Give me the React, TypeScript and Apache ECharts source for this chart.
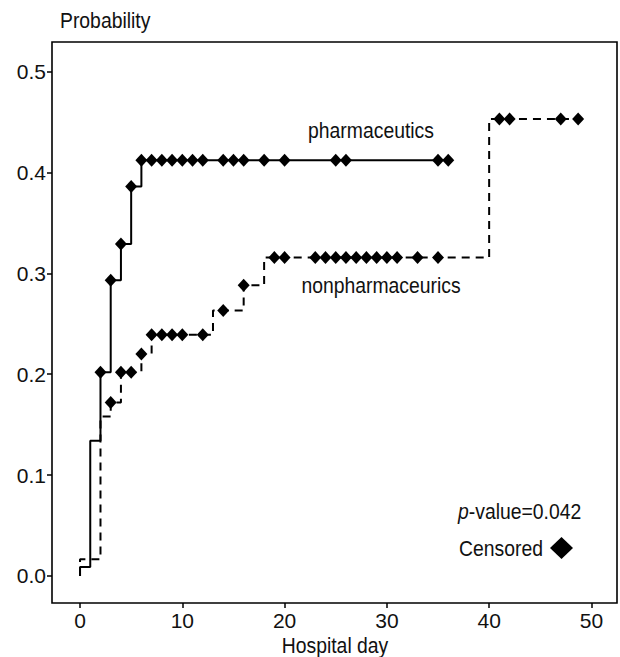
import React, { useEffect, useRef } from 'react';
import * as echarts from 'echarts';

// Step curves (time of jump, cumulative probability after jump)
const pharmTimes = [0, 0, 1, 2, 3, 4, 5, 6, 36];
const pharmProbs = [0, 0.009, 0.134, 0.202, 0.293, 0.329, 0.386, 0.412, 0.412];
const pharmCensored = [2, 3, 4, 5, 6, 7, 8, 9, 10, 11, 12, 14, 15, 16, 18, 20, 25, 26, 35, 36];

const nonTimes = [0, 0, 2, 3, 4, 6, 7, 13, 16, 18, 40, 48.7];
const nonProbs = [0, 0.0165, 0.158, 0.172, 0.202, 0.22, 0.239, 0.263, 0.288, 0.3155, 0.453, 0.453];
const nonCensored = [3, 4, 5, 6, 7, 8, 9, 10, 12, 14, 16, 19, 20, 23, 24, 25, 26, 27, 28, 29, 30, 31, 33, 35, 41, 42, 47, 48.7];

const xTicks = [0, 10, 20, 30, 40, 50];
const yTicks = [0, 0.1, 0.2, 0.3, 0.4, 0.5];

const FONT = "'Liberation Sans', Arial, Helvetica, sans-serif";
const SX = 0.88;

function stepAt(times: number[], probs: number[], t: number) {
  let v = probs[0];
  for (let i = 0; i < times.length; i++) if (times[i] <= t) v = probs[i];
  return v;
}

function label(text: string, x: number, y: number, align: string, extra: any = {}) {
  return {
    type: 'text', x, y, scaleX: SX,
    style: {
      text, fontSize: 22, fontFamily: FONT, fill: '#111', align, verticalAlign: 'middle', ...extra,
    },
  };
}

export default function App() {
  const ref = useRef<HTMLDivElement>(null);
  useEffect(() => {
    if (!ref.current) return;
    const chart = echarts.init(ref.current, undefined, { renderer: 'svg' });
    const pharmLine = pharmTimes.map((t, i) => [t, pharmProbs[i]]);
    const nonLine = nonTimes.map((t, i) => [t, nonProbs[i]]);
    const pharmC = pharmCensored.map((t) => [t, stepAt(pharmTimes, pharmProbs, t)]);
    const nonC = nonCensored.map((t) => [t, stepAt(nonTimes, nonProbs, t)]);
    chart.setOption({
      animation: false,
      backgroundColor: '#fff',
      grid: {
        left: 52, top: 42, right: 3, bottom: 54,
        show: true, borderColor: '#000', borderWidth: 1.6,
        containLabel: false, outerBoundsMode: 'none',
      },
      xAxis: {
        type: 'value', min: -2.74, max: 52.5,
        axisLine: { show: false, onZero: false },
        splitLine: { show: false },
        axisTick: { show: true, customValues: xTicks, length: 5, lineStyle: { color: '#000', width: 1.5 } },
        axisLabel: { customValues: xTicks, color: '#111', fontFamily: FONT, fontSize: 21, margin: 7 },
      },
      yAxis: {
        type: 'value', min: -0.0268, max: 0.5292,
        axisLine: { show: false, onZero: false },
        splitLine: { show: false },
        axisTick: { show: true, customValues: yTicks, length: 5, lineStyle: { color: '#000', width: 1.5 } },
        axisLabel: {
          customValues: yTicks, color: '#111', fontFamily: FONT, fontSize: 21, margin: 6,
          formatter: (v: number) => v.toFixed(1),
        },
      },
      series: [
        {
          type: 'line', data: pharmLine, step: 'end', symbol: 'none',
          lineStyle: { color: '#000', width: 2 },
        },
        {
          type: 'line', data: nonLine, step: 'end', symbol: 'none',
          lineStyle: { color: '#000', width: 2, type: [8, 6] },
        },
        {
          type: 'scatter', data: pharmC, symbol: 'diamond', symbolSize: [12, 13],
          itemStyle: { color: '#000', opacity: 1 },
        },
        {
          type: 'scatter', data: nonC, symbol: 'diamond', symbolSize: [12, 13],
          itemStyle: { color: '#000', opacity: 1 },
        },
      ],
      graphic: [
        label('Probability', 60, 20, 'left'),
        label('pharmaceutics', 371, 130, 'center'),
        label('nonpharmaceurics', 381, 285, 'center'),
        label('{i|p}-value=0.042', 458, 511, 'left', {
          rich: { i: { fontStyle: 'italic', fontSize: 22, fontFamily: FONT, fill: '#111' } },
        }),
        label('Censored', 459, 548, 'left'),
        {
          type: 'polygon',
          shape: { points: [[561.5, 537], [573, 548], [561.5, 559], [550, 548]] },
          style: { fill: '#000' },
        },
        label('Hospital day', 335, 645, 'center'),
      ],
    });
    return () => chart.dispose();
  }, []);
  return <div ref={ref} style={{ position: 'fixed', left: 0, top: 0, width: 620, height: 657 }} />;
}
